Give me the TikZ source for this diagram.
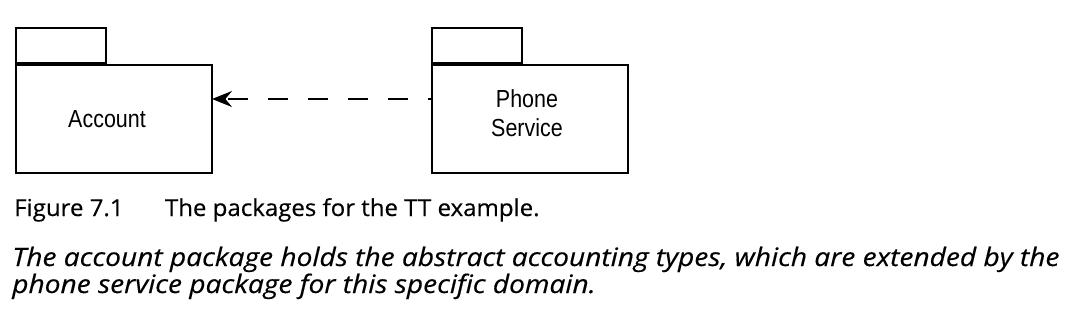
\documentclass[tikz,border=0pt]{standalone}
\usepackage{fontspec}
\setmainfont{Liberation Sans}[FakeStretch=0.87]
\newfontfamily\capfont{Open Sans}[FakeStretch=1.03,FakeBold=0.4]
\newfontfamily\capitfont{Open Sans}[FakeStretch=1.11,FakeBold=0.4]
\usetikzlibrary{arrows.meta}
\begin{document}
\begin{tikzpicture}[x=0.75pt,y=-0.75pt,
  pkgbody/.style={draw,line width=1.4pt,minimum width=196*0.75pt,minimum height=108*0.75pt,inner sep=0pt,anchor=north west,align=center},
  pkgtab/.style={draw,line width=1.4pt,minimum width=90*0.75pt,minimum height=35*0.75pt,inner sep=0pt,anchor=south west},
  lbl/.style={font=\fontsize{18.5}{21}\selectfont,align=center,inner sep=0pt},
  dep/.style={line width=1.4pt,dash pattern=on 15pt off 15pt,dash phase=12.75pt,-{Stealth[length=15pt,width=12pt,inset=5pt]}},
  captxt/.style={anchor=base west,inner sep=0pt,font=\capfont\fontsize{17.5}{21}\selectfont},
  desctxt/.style={anchor=base west,inner sep=0pt,font=\capitfont\itshape\fontsize{19}{21}\selectfont}]
\useasboundingbox (0,0) rectangle (1080,320);
\node[pkgbody] (acc) at (15,64) {};
\node[pkgtab] (acctab) at (acc.north west) {};
\node[lbl,anchor=base] (acclbl) at (107,128) {Account};
\node[pkgbody] (ph) at (431,64) {};
\node[pkgtab] (phtab) at (ph.north west) {};
\node[lbl,anchor=base] (phlbl1) at (527,108) {Phone};
\node[lbl,anchor=base] (phlbl2) at (527,137) {Service};
\coordinate (s) at (431,99);
\coordinate (e) at (212,99);
\draw[dep] (s) -- (e);
\node[captxt] (cap) at (14,216) {Figure 7.1\hspace{31pt}The packages for the TT example.};
\node[desctxt] (desc1) at (12,266) {The account package holds the abstract accounting types, which are extended by the};
\node[desctxt] (desc2) at (12,293) {phone service package for this specific domain.};
\end{tikzpicture}
\end{document}
